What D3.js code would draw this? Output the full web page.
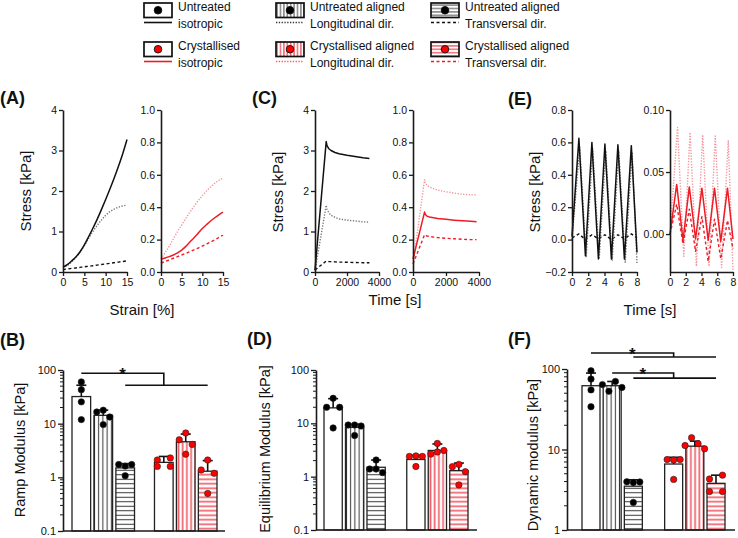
<!DOCTYPE html>
<html><head><meta charset="utf-8">
<script src="https://cdn.jsdelivr.net/npm/d3@7"></script>
<style>body{margin:0;background:#fff}svg{display:block}</style>
</head><body><svg id="c" width="738" height="538"></svg>
<script>
// ================= DATA =================
const legendTop = ["Untreated","Untreated aligned","Untreated aligned","Crystallised","Crystallised aligned","Crystallised aligned"];
const legendBottom = ["isotropic","Longitudinal dir.","Transversal dir.","isotropic","Longitudinal dir.","Transversal dir."];

// (A) stress-strain ramp
const aStrain = [0,1,2,3,4,5,6,7,8,9,10,11,12,13,14,15];
const aUntreatedIso   = [0.12,0.18,0.27,0.37,0.50,0.67,0.87,1.08,1.30,1.54,1.79,2.05,2.32,2.61,2.92,3.27];
const aUntreatedLong  = [0.10,0.16,0.25,0.36,0.49,0.65,0.83,1.00,1.15,1.28,1.40,1.49,1.55,1.60,1.63,1.65];
const aUntreatedTrans = [0.06,0.075,0.09,0.10,0.115,0.13,0.14,0.155,0.17,0.185,0.20,0.215,0.23,0.245,0.26,0.275];
const aCrystIso   = [0.08,0.087,0.095,0.105,0.118,0.135,0.158,0.185,0.212,0.24,0.268,0.292,0.315,0.335,0.353,0.37];
const aCrystLong  = [0.08,0.12,0.16,0.205,0.25,0.29,0.33,0.37,0.405,0.44,0.47,0.50,0.525,0.548,0.565,0.58];
const aCrystTrans = [0.055,0.065,0.075,0.085,0.095,0.105,0.115,0.125,0.137,0.148,0.16,0.172,0.185,0.198,0.213,0.228];

// (C) stress relaxation
const cTimeUntreated = [0,700,750,850,1000,1250,1500,2000,2500,3000,3400];
const cUntreatedIso   = [0.05,3.22,3.12,3.05,3.0,2.95,2.92,2.88,2.85,2.82,2.8];
const cUntreatedLong  = [0.03,1.65,1.55,1.47,1.40,1.35,1.31,1.28,1.26,1.24,1.23];
const cUntreatedTrans = [0.05,0.27,0.265,0.26,0.255,0.25,0.245,0.24,0.235,0.23,0.23];
const cTimeCryst = [0,700,750,850,1000,1250,1500,2000,2500,3000,3500,3850];
const cCrystIso   = [0.08,0.37,0.355,0.345,0.34,0.335,0.33,0.325,0.32,0.316,0.313,0.31];
const cCrystLong  = [0.05,0.57,0.55,0.535,0.525,0.515,0.505,0.495,0.487,0.48,0.477,0.475];
const cCrystTrans = [0.05,0.23,0.225,0.222,0.22,0.215,0.212,0.208,0.205,0.202,0.2,0.2];

// (E) dynamic loading
const eTime    = [0,0.85,1.65,2.45,3.25,4.05,4.85,5.65,6.45,7.3,8.0];
const eTimeLag = [0,0.95,1.75,2.55,3.35,4.15,4.95,5.75,6.55,7.4,8.0];
const eUntreatedIso   = [0.02,0.625,-0.10,0.60,-0.12,0.59,-0.12,0.585,-0.12,0.58,-0.08];
const eUntreatedLong  = [0.0,0.57,-0.11,0.56,-0.12,0.55,-0.13,0.55,-0.14,0.54,-0.15];
const eUntreatedTrans = [0.01,0.035,0.0,0.03,0.005,0.03,0.0,0.03,0.005,0.035,0.01];
const eCrystIso   = [0.0,0.04,-0.005,0.038,-0.004,0.037,-0.005,0.037,-0.006,0.037,-0.004];
const eCrystLong  = [0.0,0.086,-0.018,0.082,-0.026,0.080,-0.026,0.079,-0.027,0.075,-0.03];
const eCrystTrans = [0.0,0.024,-0.008,0.02,-0.014,0.014,-0.022,0.012,-0.02,0.011,-0.012];

// bar groups
const groups = ["Untreated","Crystallised"];
const orientations = ["isotropic","longitudinal","transversal"];

// (B) ramp modulus
const rampMean = [32, 14.3, 1.5, 1.9, 4.6, 1.3];
const rampSD   = [20, 3.6, 0.3, 0.55, 1.8, 0.75];
const rampPoints = [[60,43,25.5,11.9],[16.5,17.8,13.3,9.6],[1.73,1.62,1.73,1.07],[2.1,2.3,1.6,1.6],[5.0,6.7,4.1,2.7],[1.37,2.1,1.19,0.5]];
// (D) equilibrium modulus
const eqMean = [19.5, 8.4, 1.5, 2.1, 3.1, 1.3];
const eqSD   = [9.5, 1.2, 0.55, 0.4, 1.0, 0.5];
const eqPoints = [[20,29.5,20,8.2],[9.3,9.3,8.9,5.9],[1.39,2.05,1.39,1.19],[2.4,2.45,2.4,1.55],[2.65,4.2,2.9,3.1],[1.54,1.7,1.24,0.7]];
// (F) dynamic modulus
const dynMean = [62, 62, 3.5, 6.6, 11, 3.8];
const dynSD   = [27, 8, 0.7, 1.4, 1.7, 1.0];
const dynPoints = [[95,75,55,34],[64,53,70,59],[3.97,3.9,3.95,2.2],[7.5,7.4,7.5,4.25],[11.2,14,11.8,10.2],[4.3,4.8,3.0,3.0]];

// significance brackets (bar indices and levels in kPa)
const sigB = [{a1:0,a2:3,b1:2,b2:5,y1:87,y2:52}];
const sigF = [{a1:0,a2:3,b1:2,b2:5,y1:158,y2:141},{a1:1,a2:3,b1:2,b2:5,y1:89,y2:77}];

// ================= DRAWING =================
const FONT = "Arial, 'Liberation Sans', Helvetica, sans-serif";
const svg = d3.select("#c");
svg.append("rect").attr("width",738).attr("height",538).attr("fill","#fff");
const defs = svg.append("defs");

const RED = "#ee1c25", PINK = "#f4949c", BLACK = "#111", GREY = "#777";
const styles = {
  UI:{stroke:BLACK,dash:null,w:1.5},
  UL:{stroke:GREY,dash:"1.3,1.5",w:1.4},
  UT:{stroke:BLACK,dash:"3,2.5",w:1.4},
  CI:{stroke:RED,dash:null,w:1.5},
  CL:{stroke:PINK,dash:"1.3,1.5",w:1.4},
  CT:{stroke:RED,dash:"3,2.5",w:1.4}
};

function stripe(id, dir, color, sw, step){
  const p = defs.append("pattern").attr("id",id).attr("patternUnits","userSpaceOnUse")
    .attr("width", dir==="v"?step:10).attr("height", dir==="v"?10:step);
  p.append("rect").attr("width",dir==="v"?step:10).attr("height",dir==="v"?10:step).attr("fill","#fff");
  if(dir==="v") p.append("line").attr("x1",step/2).attr("x2",step/2).attr("y1",0).attr("y2",10).attr("stroke",color).attr("stroke-width",sw);
  else p.append("line").attr("y1",step/2).attr("y2",step/2).attr("x1",0).attr("x2",10).attr("stroke",color).attr("stroke-width",sw);
}
stripe("vB","v","#333",1,4.2); stripe("hB","h","#333",1,4.5);
stripe("vR","v","#f0606a",1.7,4.2); stripe("hR","h","#f0606a",1.7,4.5);
stripe("lvB","v","#333",0.9,3.4); stripe("lhB","h","#333",0.9,3.4);
stripe("lvR","v","#f0606a",1.4,3.4); stripe("lhR","h","#f0606a",1.4,3.4);
const barFills = ["#fff","url(#vB)","url(#hB)","#fff","url(#vR)","url(#hR)"];
const legFills = ["#fff","url(#lvB)","url(#lhB)","#fff","url(#lvR)","url(#lhR)"];
const styleKeys = ["UI","UL","UT","CI","CL","CT"];

function txt(g, x, y, s, size, opts={}){
  const t = g.append("text").attr("x",x).attr("y",y).text(s)
    .attr("font-family",FONT).attr("font-size",size).attr("fill","#111");
  if(opts.anchor) t.attr("text-anchor",opts.anchor);
  if(opts.bold) t.attr("font-weight","bold");
  if(opts.rot) t.attr("transform",`rotate(-90 ${x} ${y})`).attr("dominant-baseline","central");
  return t;
}
function styleAxis(g){
  g.attr("font-family",FONT).attr("font-size",10.5);
  g.select(".domain").attr("stroke","#1a1a1a").attr("stroke-width",1.6);
  g.selectAll(".tick line").attr("stroke","#1a1a1a").attr("stroke-width",1.3);
  g.selectAll(".tick text").attr("fill","#111");
}

// ---------- legend ----------
const leg = svg.append("g");
const legCols = [144, 276, 431], legRows = [3, 42];
legendTop.forEach((t,i)=>{
  const cx = legCols[i%3], cy = legRows[Math.floor(i/3)];
  const st = styles[styleKeys[i]];
  leg.append("rect").attr("x",cx).attr("y",cy).attr("width",28).attr("height",14.5)
    .attr("fill",legFills[i]).attr("stroke","#111").attr("stroke-width",1.7);
  leg.append("circle").attr("cx",cx+14).attr("cy",cy+7.25).attr("r",3.8)
    .attr("fill", i<3?"#000":"#ff0000").attr("stroke","#111").attr("stroke-width",0.9);
  leg.append("line").attr("x1",cx).attr("x2",cx+28).attr("y1",cy+19.5).attr("y2",cy+19.5)
    .attr("stroke", i===1? "#333" : st.stroke===PINK? "#f25a64" : st.stroke)
    .attr("stroke-width",1.6).attr("stroke-dasharray",st.dash);
  txt(leg, cx+34, cy+8, t, 12);
  txt(leg, cx+34, cy+25, legendBottom[i], 12);
});

// ---------- line panels ----------
function linePanel(o){
  const x = d3.scaleLinear().domain(o.xDomain).range([o.x0,o.x1]);
  const y = d3.scaleLinear().domain(o.yDomain).range([272,110]);
  const g = svg.append("g");
  o.series.forEach(s=>{
    const st = styles[s.key];
    g.append("path").datum(d3.zip(s.x,s.y))
      .attr("d", d3.line().curve(o.curve||d3.curveLinear).x(d=>x(d[0])).y(d=>y(d[1])))
      .attr("fill","none").attr("stroke",st.stroke).attr("stroke-width",st.w)
      .attr("stroke-dasharray",st.dash).attr("stroke-linejoin","round");
  });
  const gx = g.append("g").attr("transform",`translate(0,272)`)
    .call(d3.axisBottom(x).tickValues(o.xTicks).tickSize(4).tickPadding(3).tickSizeOuter(0).tickFormat(o.xFmt||d3.format("d")));
  styleAxis(gx);
  const gy = g.append("g").attr("transform",`translate(${o.x0},0)`)
    .call(d3.axisLeft(y).tickValues(o.yTicks).tickSize(4).tickPadding(2).tickSizeOuter(0).tickFormat(o.yFmt));
  styleAxis(gy);
}

// A
linePanel({x0:63,x1:127,xDomain:[0,15],xTicks:[0,5,10,15],yDomain:[0,4],yTicks:[0,1,2,3,4],yFmt:d3.format("d"),curve:d3.curveMonotoneX,
  series:[{key:"UT",x:aStrain,y:aUntreatedTrans},{key:"UL",x:aStrain,y:aUntreatedLong},{key:"UI",x:aStrain,y:aUntreatedIso}]});
linePanel({x0:161,x1:223,xDomain:[0,15],xTicks:[0,5,10,15],yDomain:[0,1],yTicks:[0,0.2,0.4,0.6,0.8,1.0],yFmt:d3.format(".1f"),curve:d3.curveMonotoneX,
  series:[{key:"CT",x:aStrain,y:aCrystTrans},{key:"CL",x:aStrain,y:aCrystLong},{key:"CI",x:aStrain,y:aCrystIso}]});
// C
linePanel({x0:315,x1:379,xDomain:[0,4000],xTicks:[0,2000,4000],yDomain:[0,4],yTicks:[0,1,2,3,4],yFmt:d3.format("d"),
  series:[{key:"UT",x:cTimeUntreated,y:cUntreatedTrans},{key:"UL",x:cTimeUntreated,y:cUntreatedLong},{key:"UI",x:cTimeUntreated,y:cUntreatedIso}]});
linePanel({x0:413,x1:479,xDomain:[0,4000],xTicks:[0,2000,4000],yDomain:[0,1],yTicks:[0,0.2,0.4,0.6,0.8,1.0],yFmt:d3.format(".1f"),
  series:[{key:"CT",x:cTimeCryst,y:cCrystTrans},{key:"CL",x:cTimeCryst,y:cCrystLong},{key:"CI",x:cTimeCryst,y:cCrystIso}]});
// E
linePanel({x0:572,x1:637,xDomain:[0,8],xTicks:[0,2,4,6,8],yDomain:[-0.2,0.8],yTicks:[-0.2,0,0.2,0.4,0.6,0.8],yFmt:d3.format(".1f"),
  series:[{key:"UT",x:eTime,y:eUntreatedTrans},{key:"UL",x:eTimeLag,y:eUntreatedLong},{key:"UI",x:eTime,y:eUntreatedIso}]});
linePanel({x0:670,x1:733,xDomain:[0,8],xTicks:[0,2,4,6,8],yDomain:[-0.0306,0.1],yTicks:[0,0.05,0.1],yFmt:d3.format(".2f"),
  series:[{key:"CL",x:eTimeLag,y:eCrystLong},{key:"CT",x:eTime,y:eCrystTrans},{key:"CI",x:eTime,y:eCrystIso}]});

// labels top row
const lab = svg.append("g");
txt(lab, 0, 104, "(A)", 18, {bold:true});
txt(lab, 252, 104, "(C)", 18, {bold:true});
txt(lab, 508, 105, "(E)", 18, {bold:true});
txt(lab, 25, 191, "Stress [kPa]", 15, {anchor:"middle", rot:true});
txt(lab, 277, 192, "Stress [kPa]", 15, {anchor:"middle", rot:true});
txt(lab, 534, 192, "Stress [kPa]", 15, {anchor:"middle", rot:true});
txt(lab, 142, 315, "Strain [%]", 15, {anchor:"middle"});
txt(lab, 395, 305, "Time [s]", 15, {anchor:"middle"});
txt(lab, 650, 315, "Time [s]", 15, {anchor:"middle"});

// ---------- bar panels ----------
function barPanel(o){
  const g = svg.append("g");
  const y = d3.scaleLog().domain(o.yDomain).range(o.yRange);
  const xg = d3.scaleBand().domain(groups).range([o.x0+o.gr[0], o.x0+o.gr[1]]).paddingInner(o.pin);
  const xi = d3.scaleBand().domain(orientations).range([0, xg.bandwidth()]).paddingInner(0.15);
  const bx = i => xg(groups[Math.floor(i/3)]) + xi(orientations[i%3]);
  const bw = xi.bandwidth();
  const cxOf = i => bx(i) + bw/2;
  const y0 = o.yRange[0];
  o.means.forEach((m,i)=>{
    g.append("rect").attr("x",bx(i)).attr("y",y(m)).attr("width",bw).attr("height",y0-y(m))
      .attr("fill",barFills[i]).attr("stroke","#222").attr("stroke-width",1.3);
  });
  o.means.forEach((m,i)=>{
    const cx = cxOf(i), top = y(m+o.sds[i]);
    g.append("line").attr("x1",cx).attr("x2",cx).attr("y1",y(m)).attr("y2",top).attr("stroke","#111").attr("stroke-width",1.6);
    g.append("line").attr("x1",cx-5).attr("x2",cx+5).attr("y1",top).attr("y2",top).attr("stroke","#111").attr("stroke-width",1.6);
  });
  o.points.forEach((pts,i)=>{
    const items = pts.map((v,k)=>({v,k,py:y(v)})).sort((a,b)=>a.py-b.py);
    const clusters=[]; items.forEach(it=>{
      const last = clusters[clusters.length-1];
      if(last && it.py - last[last.length-1].py < 6) last.push(it); else clusters.push([it]);
    });
    const s = 6.5;
    clusters.forEach(cl=>{
      cl.sort((a,b)=>a.k-b.k);
      const n = cl.length;
      const offs = n===1?[0]: n===2?[-s,s]: n===3?[-s,0,s]:[-1.5*s,-0.5*s,0.5*s,1.5*s];
      cl.forEach((it,j)=>{
        g.append("circle").attr("cx",cxOf(i)+offs[j]).attr("cy",it.py).attr("r",3.2)
          .attr("fill", i<3?"#000":"#ff0000").attr("stroke","#222").attr("stroke-width",0.6);
      });
    });
  });
  g.append("line").attr("x1",o.x0).attr("x2",o.x0+o.w).attr("y1",y0).attr("y2",y0).attr("stroke","#1a1a1a").attr("stroke-width",1.6);
  const minor = [];
  const [lo,hi] = o.yDomain;
  for(let d=lo; d<hi*0.999; d*=10) for(let k=2;k<=9;k++) minor.push(d*k);
  const gy = g.append("g").attr("transform",`translate(${o.x0},0)`)
    .call(d3.axisLeft(y).tickValues(o.majors).tickSize(5).tickPadding(2).tickSizeOuter(0).tickFormat(d=>String(d)));
  styleAxis(gy);
  gy.attr("font-size",11);
  minor.forEach(v=>{
    g.append("line").attr("x1",o.x0-3).attr("x2",o.x0).attr("y1",y(v)).attr("y2",y(v)).attr("stroke","#1a1a1a").attr("stroke-width",1);
  });
  (o.sig||[]).forEach(s=>{
    const xa1=cxOf(s.a1), xa2=cxOf(s.a2), xb1=cxOf(s.b1), xb2=cxOf(s.b2);
    const ya=y(s.y1), yb=y(s.y2);
    g.append("path").attr("d",`M${xa1},${ya}H${xa2}V${yb}`).attr("fill","none").attr("stroke","#111").attr("stroke-width",1.6);
    g.append("line").attr("x1",xb1).attr("x2",xb2).attr("y1",yb).attr("y2",yb).attr("stroke","#111").attr("stroke-width",1.6);
    txt(g,(xa1+xa2)/2, ya+7, "*", 17, {anchor:"middle", bold:true});
  });
}

barPanel({x0:63,w:162,gr:[9,154],pin:0.242,yDomain:[0.1,100],yRange:[531,370],majors:[0.1,1,10,100],
  means:rampMean,sds:rampSD,points:rampPoints,sig:sigB});
barPanel({x0:316,w:161,gr:[8,152],pin:0.26,yDomain:[0.1,100],yRange:[530,370],majors:[0.1,1,10,100],
  means:eqMean,sds:eqSD,points:eqPoints});
barPanel({x0:567,w:168,gr:[15,158],pin:0.27,yDomain:[1,100],yRange:[530,369],majors:[1,10,100],
  means:dynMean,sds:dynSD,points:dynPoints,sig:sigF});

txt(lab, 0, 346, "(B)", 18, {bold:true});
txt(lab, 247, 345, "(D)", 18, {bold:true});
txt(lab, 508, 345, "(F)", 18, {bold:true});
txt(lab, 20, 450, "Ramp Modulus [kPa]", 14.5, {anchor:"middle", rot:true});
txt(lab, 265, 449, "Equilibrium Modulus [kPa]", 14.5, {anchor:"middle", rot:true});
txt(lab, 533, 455, "Dynamic modulus [kPa]", 14.5, {anchor:"middle", rot:true});
</script></body></html>
